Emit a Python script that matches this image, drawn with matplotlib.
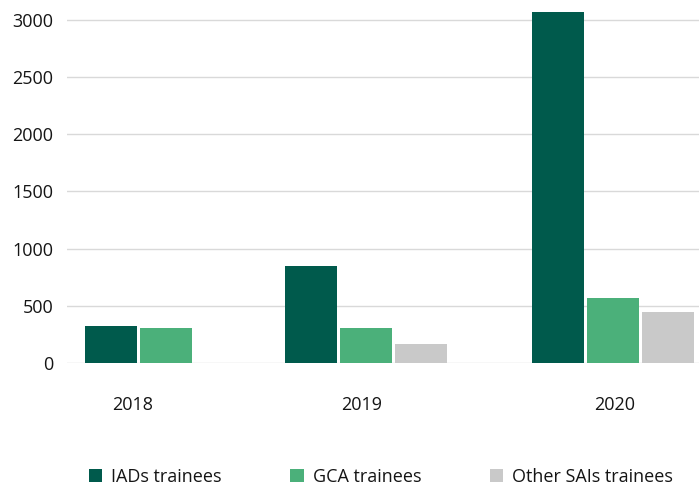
import numpy as np
import matplotlib
matplotlib.use('Agg')
import matplotlib.pyplot as plt
from matplotlib.patches import Patch

plt.rcParams['font.family'] = ['Open Sans', 'DejaVu Sans']

# data
years = ['2018', '2019', '2020']
iads = [326, 848, 3066]
gca = [304, 305, 571]
other = [None, 164, 448]
series_names = ['IADs trainees', 'GCA trainees', 'Other SAIs trainees']
colors = ['#005a4c', '#4bb07a', '#c9c9c9']

# layout (units of 100 px)
group_start = [1.11, 3.11, 5.58]
label_x = [1.33, 3.62, 6.15]
step = 0.55
width = 0.52

fig = plt.figure(figsize=(6.99, 4.86), dpi=100)
ax = fig.add_axes([67 / 699, 123 / 486, 632 / 699, 354.6 / 486])

for k, vals in enumerate([iads, gca, other]):
    for i, v in enumerate(vals):
        if v is None:
            continue
        ax.bar(group_start[i] + k * step, v, width=width, color=colors[k], zorder=3)

ax.set_xlim(0.67, 6.99)
ax.set_ylim(0, 3100)
ax.set_yticks(np.arange(0, 3001, 500))
ax.yaxis.grid(True, color='#d9d9d9', linewidth=1, zorder=0)
ax.set_xticks(label_x)
ax.set_xticklabels(years)
ax.tick_params(axis='x', length=0, pad=24, labelsize=13, colors='#151515')
ax.tick_params(axis='y', length=0, pad=10, labelsize=13, colors='#151515')
for s in ax.spines.values():
    s.set_visible(False)

handles = [Patch(facecolor=c, edgecolor='none') for c in colors]
fig.legend(handles, series_names, loc='center', bbox_to_anchor=(0.545, 1 - 477 / 486),
           ncol=3, frameon=False, fontsize=13, handlelength=0.75, handleheight=0.75,
           handletextpad=0.5, columnspacing=3.8, labelcolor='#151515')

fig.savefig('out.png')
